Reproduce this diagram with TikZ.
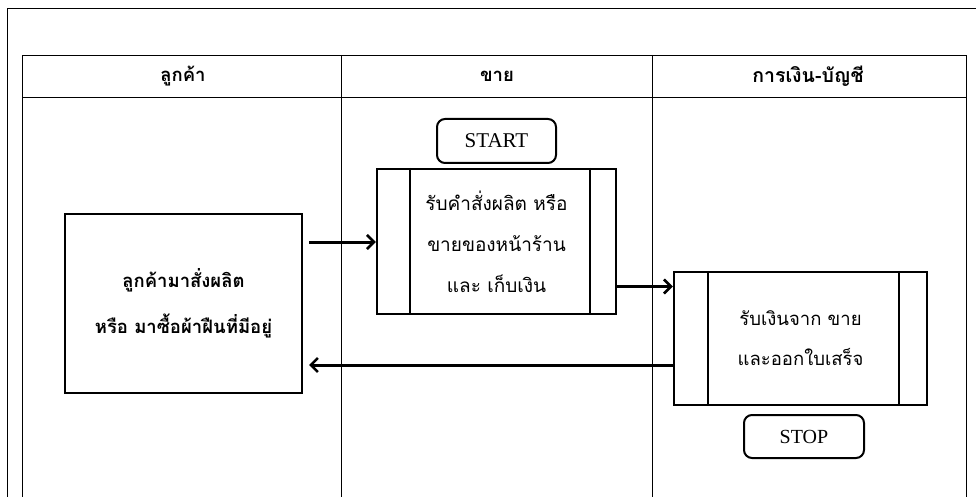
\documentclass[tikz,border=0pt]{standalone}
\usepackage{fontspec}
\setmainfont{Liberation Serif}
\newfontfamily\thai[Script=Thai]{Loma}
\usetikzlibrary{arrows.meta}
\tikzset{
  frameline/.style={line width=0.9pt},
  boxline/.style={draw, line width=2.4pt, align=center, inner sep=0pt},
  procbox/.style={boxline, font=\thai\fontsize{18.5}{40}\selectfont},
  termbox/.style={boxline, line width=2pt, rounded corners=8pt},
  headtext/.style={font=\thai\bfseries\fontsize{18.5}{20}\selectfont},
  flow/.style={line width=3pt, -{Straight Barb[length=7pt,width=14pt,line width=2.6pt]}},
}
\begin{document}
\begin{tikzpicture}[x=1pt,y=-1pt]
\useasboundingbox (0,0) rectangle (976,497);
% outer frame
\draw[frameline] (7,497) -- (7,8) -- (976,8);
% table
\draw[frameline] (22,497) -- (22,55) -- (966,55) -- (966,497);
\draw[frameline] (22,97) -- (966,97);
\draw[frameline] (341,55) -- (341,497);
\draw[frameline] (652,55) -- (652,497);
% headers
\node[headtext] (h1) at (183,76) {ลูกค้า};
\node[headtext] (h2) at (497,76) {ขาย};
\node[headtext, font=\thai\bfseries\fontsize{19.5}{20}\selectfont] (h3) at (808,76) {การเงิน-บัญชี};
% boxes
\node[boxline, minimum width=237pt, minimum height=179pt, font=\thai\bfseries\fontsize{18.5}{46}\selectfont] (b1) at (183.5,303.5) {ลูกค้ามาสั่งผลิต\\หรือ มาซื้อผ้าฝืนที่มีอยู่};
\node[termbox, minimum width=119pt, minimum height=44pt, font=\fontsize{21}{24}\selectfont] (start) at (496.5,141) {START};
\node[procbox, font=\thai\fontsize{19}{41}\selectfont, minimum width=239pt, minimum height=145pt] (p2) at (496.5,241.5) {รับคำสั่งผลิต หรือ\\ขายของหน้าร้าน\\และ เก็บเงิน};
\draw[line width=2.4pt] ([xshift=34pt]p2.north west) -- ([xshift=34pt]p2.south west);
\draw[line width=2.4pt] ([xshift=-27pt]p2.north east) -- ([xshift=-27pt]p2.south east);
\node[procbox, minimum width=253pt, minimum height=133pt] (p3) at (800.5,338.5) {รับเงินจาก ขาย\\และออกใบเสร็จ};
\draw[line width=2.4pt] ([xshift=35pt]p3.north west) -- ([xshift=35pt]p3.south west);
\draw[line width=2.4pt] ([xshift=-29pt]p3.north east) -- ([xshift=-29pt]p3.south east);
\node[termbox, minimum width=120pt, minimum height=43pt, font=\fontsize{20}{24}\selectfont] (stop) at (804,436.5) {STOP};
% connectors
\coordinate (s1) at (309,242);
\coordinate (e3) at (309,365);
\draw[flow] (s1) -- (s1 -| p2.west);
\draw[flow] ([yshift=-45pt]p2.east) -- ([yshift=-45pt]p2.east -| p3.west);
\draw[flow] (p3.west |- e3) -- (e3);
\end{tikzpicture}
\end{document}
